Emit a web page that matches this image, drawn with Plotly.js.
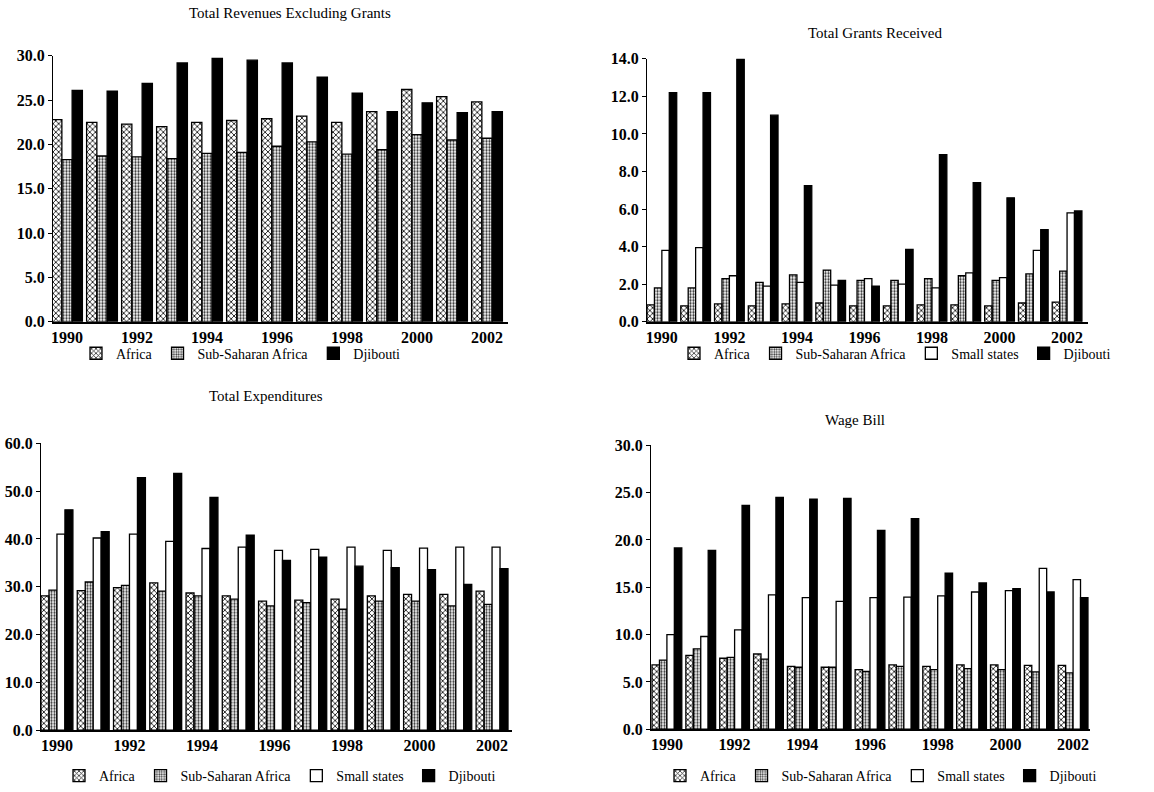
<!DOCTYPE html>
<html>
<head>
<meta charset="utf-8">
<script src="https://cdn.plot.ly/plotly-3.0.1.min.js"></script>
<style>html,body{margin:0;padding:0;background:#fff}#chart{width:1154px;height:792px}</style>
</head>
<body>
<div id="chart"></div>
<script>
// ---- data ----
const years = [1990,1991,1992,1993,1994,1995,1996,1997,1998,1999,2000,2001,2002];
const tickYears = [1990,1992,1994,1996,1998,2000,2002];
const tickLabels = ["1990","1992","1994","1996","1998","2000","2002"];
const seriesNames = ["Africa","Sub-Saharan Africa","Small states","Djibouti"];

const titleRevenue = "Total Revenues Excluding Grants";
const titleGrants = "Total Grants Received";
const titleExpend = "Total Expenditures";
const titleWage = "Wage Bill";

// Total Revenues Excluding Grants
const revAfrica   = [22.8,22.5,22.3,22.0,22.5,22.7,22.9,23.2,22.5,23.7,26.2,25.4,24.8];
const revSSA      = [18.3,18.7,18.6,18.4,19.0,19.1,19.8,20.3,18.9,19.4,21.1,20.5,20.7];
const revDjibouti = [26.1,26.0,26.9,29.2,29.7,29.5,29.2,27.6,25.8,23.7,24.7,23.6,23.7];

// Total Grants Received
const grAfrica   = [0.9,0.85,0.95,0.85,0.95,1.0,0.85,0.85,0.9,0.9,0.85,1.0,1.05];
const grSSA      = [1.8,1.8,2.3,2.1,2.5,2.75,2.2,2.2,2.3,2.45,2.2,2.55,2.7];
const grSmall    = [3.8,3.95,2.45,1.9,2.1,1.95,2.3,2.0,1.8,2.6,2.35,3.8,5.8];
const grDjibouti = [12.2,12.2,14.0,11.0,7.25,2.2,1.9,3.85,8.9,7.4,6.6,4.9,5.9];

// Total Expenditures
const exAfrica   = [28.1,29.2,29.8,30.8,28.7,28.1,27.0,27.2,27.4,28.1,28.4,28.4,29.1];
const exSSA      = [29.3,31.0,30.3,29.1,28.1,27.4,26.0,26.7,25.3,27.0,27.0,26.0,26.3];
const exSmall    = [41.0,40.2,41.0,39.5,38.0,38.3,37.6,37.8,38.3,37.6,38.1,38.3,38.3];
const exDjibouti = [46.1,41.5,52.8,53.7,48.7,40.8,35.5,36.2,34.3,34.0,33.6,30.5,33.8];

// Wage Bill
const wbAfrica   = [6.8,7.8,7.5,7.95,6.65,6.55,6.3,6.8,6.65,6.8,6.8,6.75,6.75];
const wbSSA      = [7.3,8.5,7.6,7.4,6.55,6.55,6.1,6.65,6.3,6.4,6.3,6.05,5.95];
const wbSmall    = [10.0,9.8,10.5,14.2,13.9,13.5,13.9,13.95,14.1,14.5,14.65,17.0,15.8];
const wbDjibouti = [19.15,18.9,23.65,24.5,24.3,24.4,21.0,22.25,16.5,15.45,14.85,14.5,13.9];

// ---- styles ----
const FONT = "Liberation Serif, Times New Roman, serif";
const styles = {
  "Africa": {color:"#7a7a7a", pattern:{shape:"x", fgcolor:"#1a1a1a", size:4, solidity:0.4}},
  "Sub-Saharan Africa": {color:"#c8c8c8", pattern:{shape:".", fgcolor:"#333", size:3, solidity:0.45}},
  "Small states": {color:"#ffffff"},
  "Djibouti": {color:"#000000"}
};

function bar(name, y, xa, ya, lg){
  const st = styles[name];
  const m = {color: st.color, line:{color:"#000", width:1.3}};
  if (st.pattern) m.pattern = st.pattern;
  return {type:"bar", name:name, x:years, y:y, xaxis:xa, yaxis:ya, legend:lg,
          marker:m, showlegend:true, hoverinfo:"x+y+name"};
}

const traces = [
  bar("Africa", revAfrica, "x", "y", "legend"),
  bar("Sub-Saharan Africa", revSSA, "x", "y", "legend"),
  bar("Djibouti", revDjibouti, "x", "y", "legend"),

  bar("Africa", grAfrica, "x2", "y2", "legend2"),
  bar("Sub-Saharan Africa", grSSA, "x2", "y2", "legend2"),
  bar("Small states", grSmall, "x2", "y2", "legend2"),
  bar("Djibouti", grDjibouti, "x2", "y2", "legend2"),

  bar("Africa", exAfrica, "x3", "y3", "legend3"),
  bar("Sub-Saharan Africa", exSSA, "x3", "y3", "legend3"),
  bar("Small states", exSmall, "x3", "y3", "legend3"),
  bar("Djibouti", exDjibouti, "x3", "y3", "legend3"),

  bar("Africa", wbAfrica, "x4", "y4", "legend4"),
  bar("Sub-Saharan Africa", wbSSA, "x4", "y4", "legend4"),
  bar("Small states", wbSmall, "x4", "y4", "legend4"),
  bar("Djibouti", wbDjibouti, "x4", "y4", "legend4")
];

const W = 1154, H = 792;
const px = v => v / W;
const py = v => 1 - v / H;

function xax(l, r, range, anchor){
  return {domain:[px(l), px(r)], range:range, anchor:anchor, tickvals:tickYears, ticktext:tickLabels,
          showgrid:false, zeroline:false, showline:true, linecolor:"#000", linewidth:2,
          ticks:"", ticklabelstandoff:0,
          tickfont:{family:FONT, size:16, color:"#000", weight:"bold"}, fixedrange:true};
}
function yax(top, bottom, range, dtick, anchor){
  return {domain:[py(bottom), py(top)], range:range, dtick:dtick, anchor:anchor, tickformat:".1f",
          showgrid:false, zeroline:false, showline:true, linecolor:"#000", linewidth:1,
          ticks:"outside", ticklen:4, tickcolor:"#000",
          tickfont:{family:FONT, size:16, color:"#000", weight:"bold"}, fixedrange:true};
}
function leg(cx, cy){
  return {orientation:"h", x:px(cx), y:py(cy), xanchor:"center", yanchor:"middle",
          font:{family:FONT, size:14, color:"#000"}, itemwidth:30, tracegroupgap:0,
          bgcolor:"rgba(0,0,0,0)"};
}
function ttl(text, cx, cy){
  return {text:text, x:px(cx), y:py(cy), xref:"paper", yref:"paper", showarrow:false,
          xanchor:"center", yanchor:"middle", font:{family:FONT, size:15, color:"#000"}};
}

const layout = {
  width:W, height:H, margin:{l:0, r:0, t:0, b:0},
  paper_bgcolor:"#fff", plot_bgcolor:"#fff",
  barmode:"group", bargap:0.12, bargroupgap:0,
  font:{family:FONT, color:"#000"},
  xaxis:  xax(53, 508, [1989.6, 2002.6], "y"),
  yaxis:  yax(56, 323, [0, 30], 5, "x"),
  xaxis2: xax(647, 1088, [1989.56, 2002.62], "y2"),
  yaxis2: yax(59, 323, [0, 14], 2, "x2"),
  xaxis3: xax(41, 512, [1989.56, 2002.55], "y3"),
  yaxis3: yax(445, 733, [0, 60], 10, "x3"),
  xaxis4: xax(651, 1090, [1989.53, 2002.5], "y4"),
  yaxis4: yax(447, 732, [0, 30], 5, "x4"),
  legend:  leg(241, 355),
  legend2: leg(895, 355),
  legend3: leg(280, 779),
  legend4: leg(881, 779),
  annotations:[
    ttl(titleRevenue, 290, 13),
    ttl(titleGrants, 875, 33),
    ttl(titleExpend, 266, 398),
    ttl(titleWage, 855, 422)
  ],
  showlegend:true
};

Plotly.newPlot("chart", traces, layout, {displayModeBar:false, staticPlot:true});
</script>
</body>
</html>
